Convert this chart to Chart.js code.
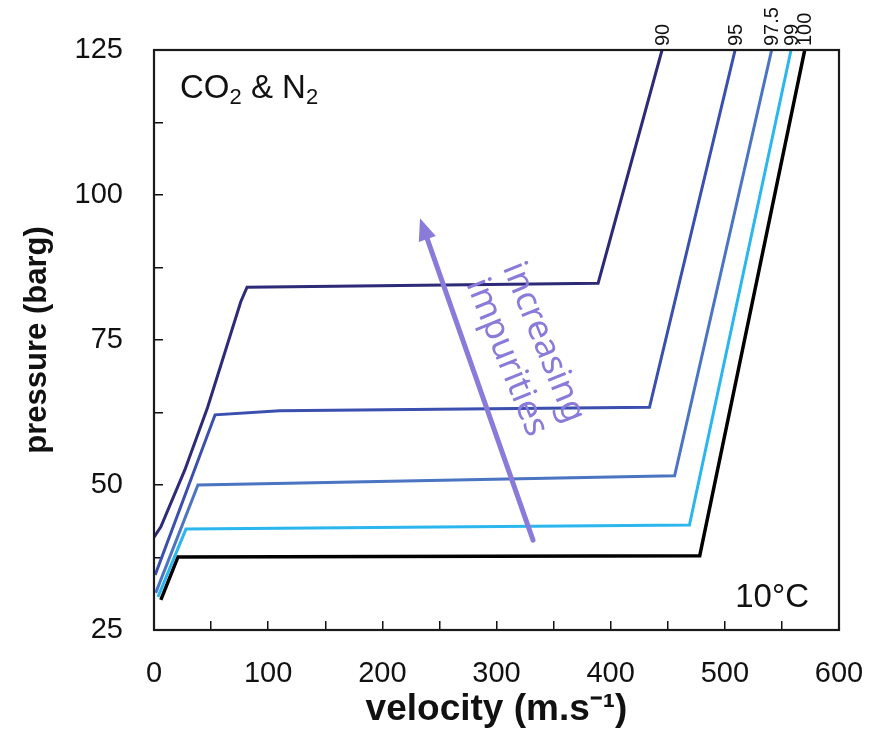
<!DOCTYPE html>
<html>
<head>
<meta charset="utf-8">
<script src="https://cdn.jsdelivr.net/npm/chart.js@4.4.1/dist/chart.umd.min.js"></script>
<style>
  html, body { margin: 0; padding: 0; background: #fff; }
  canvas { display: block; }
</style>
</head>
<body>
<canvas id="chart" width="869" height="733"></canvas>
<script>
// CO2 purity (%) for each curve
const seriesLabels = ['90', '95', '97.5', '99', '100'];
const velocity90 = [0, 6, 27, 47, 76, 81.5, 389, 445];
const pressure90 = [41, 42.8, 52.6, 63.4, 81.6, 84.1, 84.8, 125];
const velocity95 = [1, 53.5, 110, 434, 509];
const pressure95 = [34.5, 62.1, 62.8, 63.4, 125];
const velocity975 = [1.5, 38.5, 456, 541];
const pressure975 = [31.4, 50, 51.6, 125];
const velocity99 = [3.5, 28, 469, 558];
const pressure99 = [30.7, 42.4, 43.1, 125];
const velocity100 = [6, 21, 478, 570];
const pressure100 = [30.2, 37.6, 37.8, 125];
const xTicks = [0, 100, 200, 300, 400, 500, 600];
const yTicks = [25, 50, 75, 100, 125];

const seriesColors = ['#2d2a78', '#3a4fae', '#4b74c2', '#2bb7ee', '#000000'];
const seriesX = [velocity90, velocity95, velocity975, velocity99, velocity100];
const seriesY = [pressure90, pressure95, pressure975, pressure99, pressure100];

const FONT = '"Liberation Sans", Arial, Helvetica, sans-serif';
const PURPLE = '#8a7bdb';

Chart.defaults.font.family = FONT;
Chart.defaults.color = '#111';

const datasets = seriesLabels.map((label, i) => ({
  label: label,
  data: seriesX[i].map((v, j) => ({ x: v, y: seriesY[i][j] })),
  borderColor: seriesColors[i],
  borderWidth: i === 4 ? 3.5 : 3,
  pointRadius: 0,
  showLine: true,
  tension: 0,
  fill: false
}));

// frame, end labels, notes and the arrow
const overlay = {
  id: 'overlay',
  afterDraw(chart) {
    const { ctx, chartArea: a, scales: { x, y } } = chart;
    ctx.save();

    ctx.strokeStyle = '#1a1a1a';
    ctx.lineWidth = 2.2;
    ctx.strokeRect(a.left, a.top, a.right - a.left, a.bottom - a.top);

    // purity labels above the plot, rotated
    ctx.fillStyle = '#111';
    ctx.font = '20px ' + FONT;
    chart.data.datasets.forEach(ds => {
      const last = ds.data[ds.data.length - 1];
      ctx.save();
      ctx.translate(x.getPixelForValue(last.x) + 1, a.top - 4);
      ctx.rotate(-Math.PI / 2);
      ctx.textAlign = 'left';
      ctx.textBaseline = 'middle';
      ctx.fillText(ds.label, 0, 0);
      ctx.restore();
    });

    // CO2 & N2 with subscripts
    ctx.textAlign = 'left';
    ctx.textBaseline = 'alphabetic';
    let tx = a.left + 26;
    const ty = a.top + 48;
    [['CO', 0, 33], ['2', 6, 22], [' & N', 0, 33], ['2', 6, 22]].forEach(([t, dy, size]) => {
      ctx.font = size + 'px ' + FONT;
      ctx.fillText(t, tx, ty + dy);
      tx += ctx.measureText(t).width;
    });

    ctx.font = '33px ' + FONT;
    ctx.textAlign = 'right';
    ctx.fillText('10°C', a.right - 30, a.bottom - 23);

    // arrow
    const x0 = x.getPixelForValue(332), y0 = y.getPixelForValue(40.5);
    const x1 = x.getPixelForValue(233), y1 = y.getPixelForValue(96);
    const ang = Math.atan2(y1 - y0, x1 - x0);
    const head = 22;
    ctx.strokeStyle = PURPLE;
    ctx.fillStyle = PURPLE;
    ctx.lineWidth = 5;
    ctx.lineCap = 'round';
    ctx.beginPath();
    ctx.moveTo(x0, y0);
    ctx.lineTo(x1 - Math.cos(ang) * head * 0.8, y1 - Math.sin(ang) * head * 0.8);
    ctx.stroke();
    ctx.beginPath();
    ctx.moveTo(x1, y1);
    ctx.lineTo(x1 - head * Math.cos(ang) + 9 * Math.sin(ang), y1 - head * Math.sin(ang) - 9 * Math.cos(ang));
    ctx.lineTo(x1 - head * Math.cos(ang) - 9 * Math.sin(ang), y1 - head * Math.sin(ang) + 9 * Math.cos(ang));
    ctx.closePath();
    ctx.fill();

    // rotated note
    ctx.save();
    ctx.translate(x.getPixelForValue(325), y.getPixelForValue(73.3));
    ctx.rotate(68 * Math.PI / 180);
    ctx.font = '35px "Noto Sans", "Open Sans", sans-serif';
    ctx.textAlign = 'center';
    ctx.textBaseline = 'middle';
    ctx.fillText('increasing', 0, -20);
    ctx.fillText('impurities', 0, 20);
    ctx.restore();

    ctx.restore();
  }
};

new Chart(document.getElementById('chart'), {
  type: 'scatter',
  data: { datasets: datasets },
  options: {
    responsive: false,
    animation: false,
    devicePixelRatio: 1,
    layout: { padding: { top: 50, right: 30, bottom: 0, left: 0 } },
    plugins: {
      legend: { display: false },
      tooltip: { enabled: false }
    },
    scales: {
      x: {
        type: 'linear',
        min: 0,
        max: 600,
        ticks: {
          stepSize: 50,
          autoSkip: false,
          maxRotation: 0,
          padding: 36,
          font: { size: 29 },
          callback: v => xTicks.includes(v) ? String(v) : ''
        },
        grid: { drawOnChartArea: false, drawTicks: true, tickLength: -9, color: '#111', lineWidth: 1.5 },
        border: { display: false },
        title: {
          display: true,
          text: 'velocity (m.s⁻¹)',
          font: { size: 37, weight: 'bold' },
          padding: { top: 0, bottom: 1 }
        },
        afterFit: s => { s.height = 103; s.paddingLeft = 0; s.paddingRight = 0; }
      },
      y: {
        type: 'linear',
        min: 25,
        max: 125,
        ticks: {
          stepSize: 12.5,
          autoSkip: false,
          padding: 40,
          font: { size: 29 },
          callback: v => yTicks.includes(v) ? String(v) : ''
        },
        grid: { drawOnChartArea: false, drawTicks: true, tickLength: -9, color: '#111', lineWidth: 1.5 },
        border: { display: false },
        title: {
          display: true,
          text: 'pressure (barg)',
          font: { size: 31, weight: 'bold' },
          padding: { top: 19, bottom: 0 }
        },
        afterFit: s => { s.width = 154; s.paddingTop = 0; s.paddingBottom = 0; }
      }
    }
  },
  plugins: [overlay]
});
</script>
</body>
</html>
